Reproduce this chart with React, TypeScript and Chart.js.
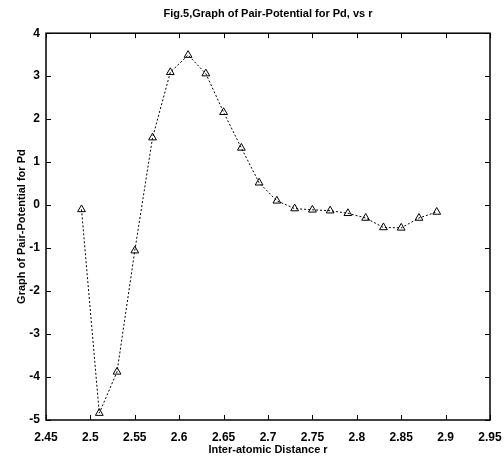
import React, { useEffect, useRef } from "react";
import { Chart, registerables } from "chart.js";

Chart.register(...registerables);

const distances = [2.49, 2.51, 2.53, 2.55, 2.57, 2.59, 2.61, 2.63, 2.65, 2.67, 2.69, 2.71, 2.73, 2.75, 2.77, 2.79, 2.81, 2.83, 2.85, 2.87, 2.89];
const potential = [-0.1, -4.84, -3.88, -1.06, 1.57, 3.09, 3.49, 3.06, 2.16, 1.33, 0.52, 0.1, -0.08, -0.11, -0.13, -0.19, -0.3, -0.52, -0.53, -0.3, -0.16];

const titleText = "Fig.5,Graph of Pair-Potential for Pd, vs r";
const xLabel = "Inter-atomic Distance r";
const yLabel = "Graph of Pair-Potential for Pd";

const boxTicks = {
  id: "boxTicks",
  afterDatasetsDraw(chart: any) {
    const { ctx, chartArea, scales } = chart;
    const { left, right, top, bottom } = chartArea;
    ctx.save();
    ctx.strokeStyle = "#000";
    ctx.lineWidth = 1.5;
    ctx.strokeRect(left, top, right - left, bottom - top);
    ctx.lineWidth = 1;
    const len = 5;
    scales.x.ticks.forEach((t: any) => {
      const px = Math.round(scales.x.getPixelForValue(t.value)) + 0.5;
      ctx.beginPath();
      ctx.moveTo(px, bottom);
      ctx.lineTo(px, bottom - len);
      ctx.moveTo(px, top);
      ctx.lineTo(px, top + len);
      ctx.stroke();
    });
    scales.y.ticks.forEach((t: any) => {
      const py = Math.round(scales.y.getPixelForValue(t.value)) + 0.5;
      ctx.beginPath();
      ctx.moveTo(left, py);
      ctx.lineTo(left + len, py);
      ctx.moveTo(right, py);
      ctx.lineTo(right - len, py);
      ctx.stroke();
    });
    ctx.restore();
  },
};

export default function App() {
  const ref = useRef<HTMLCanvasElement | null>(null);
  useEffect(() => {
    document.body.style.margin = "0";
    const canvas = ref.current;
    if (!canvas) return;
    const font = "'Liberation Sans', Arial, sans-serif";
    const chart = new Chart(canvas, {
      type: "scatter",
      data: {
        datasets: [
          {
            data: distances.map((d, i) => ({ x: d, y: potential[i] })),
            showLine: true,
            borderColor: "#000",
            borderWidth: 1,
            borderDash: [2, 2],
            pointStyle: "triangle",
            pointRadius: 4.5,
            pointBorderColor: "#000",
            pointBackgroundColor: "rgba(255,255,255,0)",
            pointBorderWidth: 1,
          },
        ],
      },
      options: {
        animation: false,
        responsive: false,
        maintainAspectRatio: false,
        layout: { padding: { left: 0, right: 14, top: 0, bottom: 0 } },
        plugins: {
          legend: { display: false },
          tooltip: { enabled: false },
          title: {
            display: true,
            text: titleText,
            fullSize: false,
            color: "#000",
            font: { family: font, size: 11, weight: "bold" },
            padding: { top: 7, bottom: 13 },
          },
        },
        scales: {
          x: {
            type: "linear",
            min: 2.45,
            max: 2.95,
            ticks: {
              stepSize: 0.05,
              color: "#000",
              padding: 10,
              maxRotation: 0,
              font: { family: font, size: 12, weight: "bold" },
              callback: (v: any) => String(Number(Number(v).toFixed(2))),
            },
            grid: { display: false, drawTicks: false },
            border: { display: false },
            title: {
              display: true,
              text: xLabel,
              color: "#000",
              font: { family: font, size: 11, weight: "bold" },
              padding: { top: 0, bottom: 13 },
            },
            afterFit: (s: any) => {
              s.height = 50;
              s.paddingLeft = 0;
              s.paddingRight = 0;
            },
          },
          y: {
            type: "linear",
            min: -5,
            max: 4,
            ticks: {
              stepSize: 1,
              color: "#000",
              padding: 6,
              font: { family: font, size: 12, weight: "bold" },
            },
            grid: { display: false, drawTicks: false },
            border: { display: false },
            title: {
              display: true,
              text: yLabel,
              color: "#000",
              font: { family: font, size: 11, weight: "bold" },
              padding: { top: 15, bottom: 0 },
            },
            afterFit: (s: any) => {
              s.width = 46;
              s.paddingTop = 0;
              s.paddingBottom = 0;
            },
          },
        },
      },
      plugins: [boxTicks],
    });
    return () => chart.destroy();
  }, []);
  return (
    <div style={{ position: "absolute", left: 0, top: 0, width: 504, height: 470, background: "#fff" }}>
      <canvas ref={ref} width={504} height={470} style={{ width: 504, height: 470 }} />
    </div>
  );
}
